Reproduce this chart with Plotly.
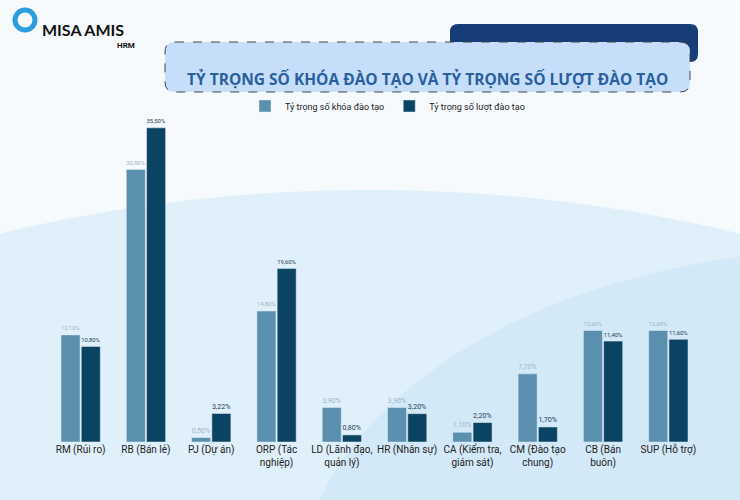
import plotly.graph_objects as go

categories = ["RM (Rủi ro)", "RB (Bán lẻ)", "PJ (Dự án)", "ORP (Tác<br>nghiệp)", "LD (Lãnh đạo,<br>quản lý)",
              "HR (Nhân sự)", "CA (Kiểm tra,<br>giám sát)", "CM (Đào tạo<br>chung)", "CB (Bán<br>buôn)", "SUP (Hỗ trợ)"]
courses = [12.10, 30.80, 0.50, 14.80, 3.90, 3.90, 1.10, 7.70, 12.60, 12.60]
trainees = [10.80, 35.50, 3.22, 19.60, 0.80, 3.20, 2.20, 1.70, 11.40, 11.60]
series_names = ["Tỷ trọng số khóa đào tạo", "Tỷ trọng số lượt đào tạo"]

def fmt(v):
    return f"{v:.2f}%".replace(".", ",")

fig = go.Figure()
fig.add_bar(x=categories, y=courses, name=series_names[0], marker_color="#5a8fae",
            text=[fmt(v) for v in courses], textposition="outside", cliponaxis=False,
            textfont=dict(size=7.5, color="#9fb6c6"))
fig.add_bar(x=categories, y=trainees, name=series_names[1], marker_color="#0b4462",
            text=[fmt(v) for v in trainees], textposition="outside", cliponaxis=False,
            textfont=dict(size=7.5, color="#1d4058"))

def rrect(x0, y0, x1, y1, r):
    X = lambda v: v / 740
    Y = lambda v: 1 - v / 500
    rx, ry = r / 740, r / 500
    return (f"M {X(x0)+rx},{Y(y0)} L {X(x1)-rx},{Y(y0)} Q {X(x1)},{Y(y0)} {X(x1)},{Y(y0)-ry} "
            f"L {X(x1)},{Y(y1)+ry} Q {X(x1)},{Y(y1)} {X(x1)-rx},{Y(y1)} L {X(x0)+rx},{Y(y1)} "
            f"Q {X(x0)},{Y(y1)} {X(x0)},{Y(y1)+ry} L {X(x0)},{Y(y0)-ry} Q {X(x0)},{Y(y0)} {X(x0)+rx},{Y(y0)} Z")

shapes = [
    dict(type="circle", xref="paper", yref="paper", x0=-0.7, x1=1.7, y0=-1.3, y1=0.62,
         fillcolor="#e0f0fa", line_width=0, layer="below"),
    dict(type="circle", xref="paper", yref="paper", x0=0.4, x1=1.9, y0=-0.9, y1=0.5,
         fillcolor="#d3e9f7", line_width=0, layer="below"),
    dict(type="path", xref="paper", yref="paper", path=rrect(450, 24, 698, 62, 8),
         fillcolor="#163d78", line_width=0, layer="below"),
    dict(type="path", xref="paper", yref="paper", path=rrect(165, 42, 690, 92, 10),
         fillcolor="#c6defa", line=dict(color="#444", width=1, dash="dash"), layer="below"),
]

fig.update_layout(
    width=740, height=500, margin=dict(l=0, r=0, t=0, b=0),
    paper_bgcolor="#f6fafd", plot_bgcolor="rgba(0,0,0,0)",
    font=dict(family="Roboto, Arial", color="#222"),
    barmode="group", bargap=0.38, bargroupgap=0.06,
    xaxis=dict(domain=[48/740, 701/740], tickfont=dict(size=10, color="#222"), showline=False, ticks=""),
    yaxis=dict(domain=[58/500, 412/500], range=[0, 40], visible=False),
    legend=dict(orientation="h", x=245/740, y=1-106/500, xanchor="left", yanchor="middle",
                font=dict(size=9, color="#222"), bgcolor="rgba(0,0,0,0)"),
    showlegend=True,
    shapes=shapes,
    annotations=[
        dict(text="<b>TỶ TRỌNG SỐ KHÓA ĐÀO TẠO VÀ TỶ TRỌNG SỐ LƯỢT ĐÀO TẠO</b>", xref="paper", yref="paper",
             x=427/740, y=1-66/500, showarrow=False, font=dict(size=15.5, color="#2a5f9e", family="Open Sans, Arial")),
        dict(text="<b>MISA AMIS</b>", xref="paper", yref="paper", x=40/740, y=1-18/500, xanchor="left",
             showarrow=False, font=dict(size=16, color="#111", family="Lato, Arial")),
        dict(text="<b>HRM</b>", xref="paper", yref="paper", x=137/740, y=1-39/500, xanchor="right",
             showarrow=False, font=dict(size=8, color="#111")),
    ],
)
fig.add_shape(type="circle", xref="paper", yref="paper", x0=15/740, x1=35/740, y0=1-30/500, y1=1-10/500,
              line=dict(color="#2b9de0", width=5))
fig.write_html("out.html", config={"displayModeBar": False},
               post_script="document.body.style.margin='0';document.body.style.overflow='hidden';")
